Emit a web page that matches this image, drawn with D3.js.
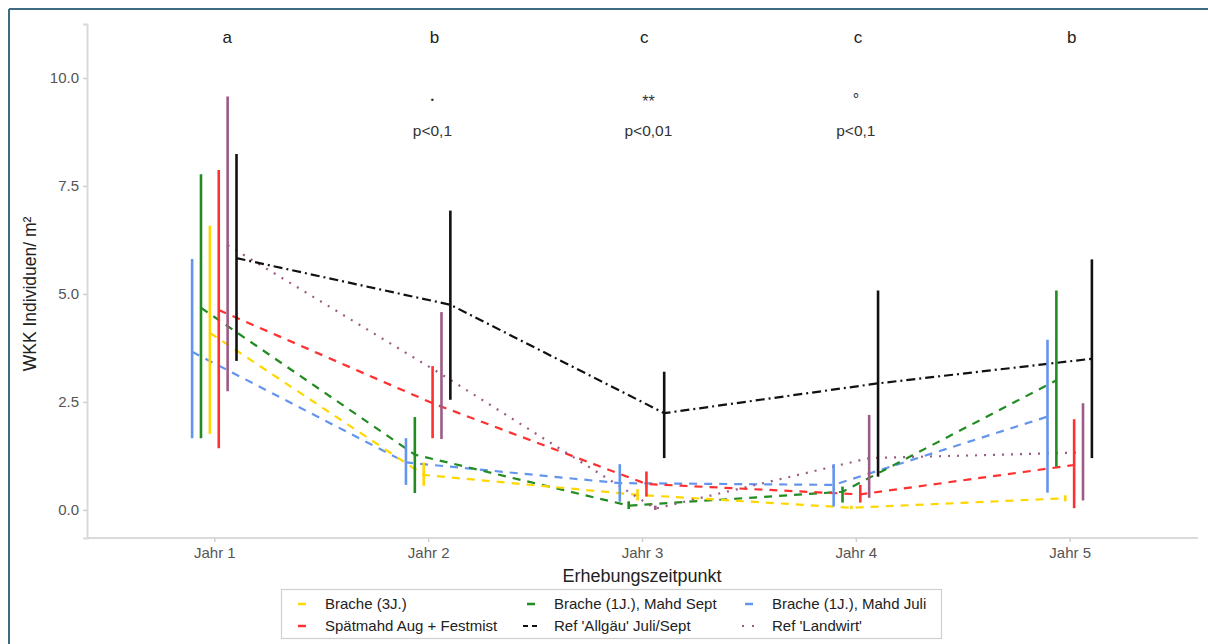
<!DOCTYPE html>
<html><head><meta charset="utf-8">
<script src="https://cdn.jsdelivr.net/npm/d3@7"></script>
<style>body{margin:0;background:#fff;} svg{display:block;font-family:"Liberation Sans",Arial,sans-serif;}</style>
</head><body>
<svg id="chart" width="1208" height="644"></svg>
<script>
// ---- data ----
const years = ["Jahr 1", "Jahr 2", "Jahr 3", "Jahr 4", "Jahr 5"];
const seriesNames = ["Brache (1J.), Mahd Juli", "Brache (1J.), Mahd Sept", "Brache (3J.)", "Spätmahd Aug + Festmist", "Ref 'Landwirt'", "Ref 'Allgäu' Juli/Sept"];
const meanMahdJuli  = [3.66, 1.10, 0.62, 0.58, 2.16];
const loMahdJuli    = [1.66, 0.58, 0.19, 0.08, 0.40];
const hiMahdJuli    = [5.81, 1.66, 1.06, 1.06, 3.94];
const meanMahdSept  = [4.68, 1.28, 0.10, 0.42, 3.00];
const loMahdSept    = [1.66, 0.39, 0.02, 0.17, 1.00];
const hiMahdSept    = [7.77, 2.15, 0.20, 0.54, 5.08];
const meanBrache3   = [4.10, 0.81, 0.35, 0.05, 0.27];
const loBrache3     = [1.76, 0.56, 0.22, 0.02, 0.20];
const hiBrache3     = [6.58, 1.10, 0.48, 0.10, 0.34];
const meanSpaetmahd = [4.63, 2.47, 0.60, 0.36, 1.04];
const loSpaetmahd   = [1.43, 1.66, 0.31, 0.17, 0.04];
const hiSpaetmahd   = [7.87, 3.33, 0.89, 0.58, 2.10];
const meanLandwirt  = [6.13, 3.14, 0.03, 1.20, 1.33];
const loLandwirt    = [2.75, 1.64, 0.00, 0.28, 0.22];
const hiLandwirt    = [9.57, 4.58, 0.10, 2.20, 2.47];
const meanAllgaeu   = [5.83, 4.75, 2.24, 2.93, 3.50];
const loAllgaeu     = [3.45, 2.55, 1.20, 0.77, 1.20];
const hiAllgaeu     = [8.24, 6.93, 3.20, 5.08, 5.80];
const yTicks = [0, 2.5, 5, 7.5, 10];
const groupLetters = ["a", "b", "c", "c", "b"];
const letterX = [1.06, 2.03, 3.01, 4.01, 5.01];
const sigMarks = ["", "•", "**", "°", ""];
const pLabels = ["", "p<0,1", "p<0,01", "p<0,1", ""];
const sigX = [1, 2.02, 3.03, 4.0, 5];
const legendOrder = ["Brache (3J.)", "Spätmahd Aug + Festmist", "Brache (1J.), Mahd Sept", "Ref 'Allgäu' Juli/Sept", "Brache (1J.), Mahd Juli", "Ref 'Landwirt'"];

// ---- styles ----
const colors = {
  "Brache (1J.), Mahd Juli": "#6495ED",
  "Brache (1J.), Mahd Sept": "#228B22",
  "Brache (3J.)": "#FFD700",
  "Spätmahd Aug + Festmist": "#FF3030",
  "Ref 'Landwirt'": "#9C5B84",
  "Ref 'Allgäu' Juli/Sept": "#111111"
};
const dashes = {
  "Brache (1J.), Mahd Juli": "8,7",
  "Brache (1J.), Mahd Sept": "8,7",
  "Brache (3J.)": "8,7",
  "Spätmahd Aug + Festmist": "8,7",
  "Ref 'Landwirt'": "2,7",
  "Ref 'Allgäu' Juli/Sept": "9,4,2,4"
};
const series = [
  {name: seriesNames[0], mean: meanMahdJuli, lo: loMahdJuli, hi: hiMahdJuli},
  {name: seriesNames[1], mean: meanMahdSept, lo: loMahdSept, hi: hiMahdSept},
  {name: seriesNames[2], mean: meanBrache3, lo: loBrache3, hi: hiBrache3},
  {name: seriesNames[3], mean: meanSpaetmahd, lo: loSpaetmahd, hi: hiSpaetmahd},
  {name: seriesNames[4], mean: meanLandwirt, lo: loLandwirt, hi: hiLandwirt},
  {name: seriesNames[5], mean: meanAllgaeu, lo: loAllgaeu, hi: hiAllgaeu}
];

const svg = d3.select("#chart");
// outer frame
svg.append("line").attr("x1", 9).attr("x2", 9).attr("y1", 9).attr("y2", 644).attr("stroke", "#3f6b80").attr("stroke-width", 2);
svg.append("line").attr("x1", 9).attr("x2", 1208).attr("y1", 9).attr("y2", 9).attr("stroke", "#3f6b80").attr("stroke-width", 2);

const x = d3.scalePoint().domain(years).range([86, 1198]).padding(0.6);
const xLin = d3.scaleLinear().domain([1, 5]).range([x(years[0]), x(years[4])]);
const y = d3.scaleLinear().domain([-0.65, 11.25]).range([538, 24]);
const dodge = d3.scalePoint().domain(seriesNames).range([-22.2, 22.2]);
const axisGray = "#dadada";

// y axis
const gy = svg.append("g").attr("transform", "translate(87,0)")
  .call(d3.axisLeft(y).tickValues(yTicks).tickFormat(d3.format(".1f")).tickSizeOuter(0).tickSize(4).tickPadding(4));
gy.select(".domain").attr("stroke", axisGray).attr("stroke-width", 2);
gy.selectAll(".tick line").attr("stroke", "#cfcfcf").attr("stroke-width", 1.5);
gy.selectAll(".tick text").attr("fill", "#555").attr("font-size", 15).attr("font-family", "Liberation Sans, Arial, sans-serif");

// x axis
const gx = svg.append("g").attr("transform", "translate(0,538)")
  .call(d3.axisBottom(x).tickSizeOuter(0).tickSize(4).tickPadding(5));
gx.select(".domain").attr("stroke", axisGray).attr("stroke-width", 2).attr("d", "M86,0H1198");
gx.selectAll(".tick line").attr("stroke", "#cfcfcf").attr("stroke-width", 1.5);
gx.selectAll(".tick text").attr("fill", "#555").attr("font-size", 15).attr("font-family", "Liberation Sans, Arial, sans-serif");

// axis titles
svg.append("text").attr("x", 642).attr("y", 582).attr("text-anchor", "middle").attr("font-size", 18).attr("fill", "#222").text("Erhebungszeitpunkt");
svg.append("text").attr("transform", "translate(36,294) rotate(-90)").attr("text-anchor", "middle").attr("font-size", 17.5).attr("fill", "#222").text("WKK Individuen/ m²");

// lines
const line = d3.line().x((d, i) => x(years[i]) + d.off).y(d => y(d.v));
series.forEach(s => {
  const pts = s.mean.map(v => ({v, off: dodge(s.name)}));
  svg.append("path").datum(pts).attr("d", line).attr("fill", "none")
    .attr("stroke", colors[s.name]).attr("stroke-width", 2.2).attr("stroke-dasharray", dashes[s.name]);
});
// error bars
series.forEach(s => {
  svg.append("g").selectAll("line").data(years).join("line")
    .attr("x1", (d) => x(d) + dodge(s.name)).attr("x2", (d) => x(d) + dodge(s.name))
    .attr("y1", (d, i) => y(s.lo[i])).attr("y2", (d, i) => y(s.hi[i]))
    .attr("stroke", colors[s.name]).attr("stroke-width", 2.6);
});

// annotations
svg.append("g").selectAll("text").data(groupLetters).join("text")
  .attr("x", (d, i) => xLin(letterX[i])).attr("y", y(10.95)).attr("dy", "0.35em")
  .attr("text-anchor", "middle").attr("font-size", 17).attr("fill", "#222").text(d => d);
svg.append("g").selectAll("text").data(sigMarks).join("text")
  .attr("x", (d, i) => xLin(sigX[i])).attr("y", (d, i) => y(i === 2 ? 9.45 : 9.5)).attr("dy", "0.35em")
  .attr("text-anchor", "middle").attr("font-size", (d, i) => i === 1 ? 9 : 16).attr("fill", "#333").text(d => d);
svg.append("g").selectAll("text").data(pLabels).join("text")
  .attr("x", (d, i) => xLin(sigX[i])).attr("y", y(8.78)).attr("dy", "0.35em")
  .attr("text-anchor", "middle").attr("font-size", 15.5).attr("fill", "#333").text(d => d);

// legend
svg.append("rect").attr("x", 281.5).attr("y", 589.5).attr("width", 660).attr("height", 49)
  .attr("fill", "#fff").attr("stroke", "#cfcfcf").attr("stroke-width", 1.2);
const colX = [302, 531, 749];
const rowY = [604, 626];
const lg = svg.append("g").selectAll("g").data(legendOrder).join("g")
  .attr("transform", (d, i) => `translate(${colX[Math.floor(i / 2)]},${rowY[i % 2]})`);
lg.each(function(d) {
  const g = d3.select(this);
  if (d === "Ref 'Allgäu' Juli/Sept") {
    g.append("line").attr("x1", -8).attr("x2", 8).attr("stroke", colors[d]).attr("stroke-width", 2).attr("stroke-dasharray", "5,4");
  } else if (d === "Ref 'Landwirt'") {
    g.append("line").attr("x1", -7).attr("x2", 8).attr("stroke", colors[d]).attr("stroke-width", 2).attr("stroke-dasharray", "2,8");
  } else {
    g.append("line").attr("x1", -4).attr("x2", 4).attr("stroke", colors[d]).attr("stroke-width", 2.5);
  }
  g.append("text").attr("x", 23).attr("dy", "0.35em").attr("font-size", 15).attr("fill", "#222").text(d);
});
</script>
</body></html>
